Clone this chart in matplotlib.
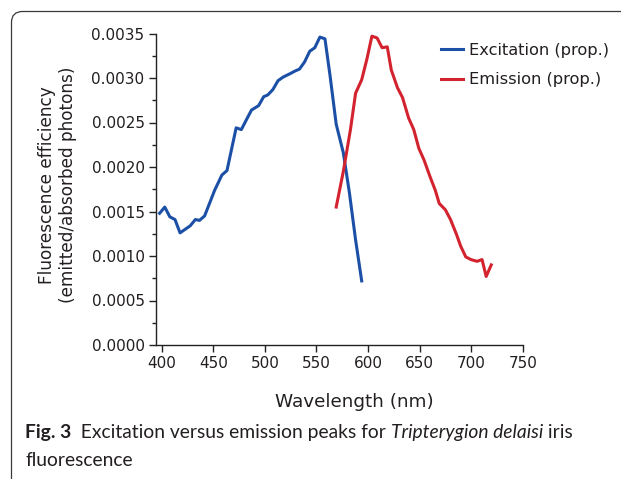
import matplotlib
matplotlib.use("Agg")
import matplotlib.pyplot as plt
from matplotlib.path import Path
from matplotlib.patches import PathPatch
from matplotlib.transforms import IdentityTransform
from matplotlib.ticker import MultipleLocator

plt.rcParams['font.family'] = ['DejaVu Sans']

exc_wl = [398.0, 403.0, 407.9, 412.9, 417.8, 422.8, 427.7, 432.7, 436.6, 441.6, 451.4, 458.4,
          463.3, 472.2, 477.2, 482.1, 487.1, 494.0, 498.9, 502.9, 507.8, 512.8, 517.7, 524.7,
          529.6, 533.6, 538.5, 543.5, 548.4, 553.4, 558.3, 563.3, 569.2, 576.1, 582.0, 588.0,
          593.9]
exc_val = [0.00148, 0.00155, 0.00144, 0.00141, 0.00126, 0.00130, 0.00134, 0.00141, 0.00140,
           0.00145, 0.00174, 0.00191, 0.00196, 0.00244, 0.00242, 0.00253, 0.00264, 0.00269,
           0.00279, 0.00281, 0.00287, 0.00297, 0.00301, 0.00305, 0.00308, 0.00310, 0.00318,
           0.00330, 0.00334, 0.00346, 0.00344, 0.00302, 0.00248, 0.00216, 0.00171, 0.00118,
           0.00072]

em_wl = [569.2, 576.1, 583.0, 588.0, 593.9, 598.9, 603.8, 608.8, 613.7, 618.7, 622.6, 628.6,
         633.5, 639.4, 644.4, 649.3, 654.3, 660.2, 665.2, 669.1, 675.0, 680.0, 685.9, 689.9,
         694.8, 699.8, 705.7, 710.6, 714.6, 719.5]
em_val = [0.00155, 0.00195, 0.00242, 0.00283, 0.00298, 0.00321, 0.00347, 0.00345, 0.00334,
          0.00335, 0.00309, 0.00289, 0.00278, 0.00255, 0.00242, 0.00221, 0.00208, 0.00189,
          0.00174, 0.00159, 0.00152, 0.00141, 0.00124, 0.00111, 0.00099, 0.00096, 0.00094,
          0.00096, 0.00077, 0.00090]

xticks = [400, 450, 500, 550, 600, 650, 700, 750]
yticks = [0.0, 0.0005, 0.0010, 0.0015, 0.0020, 0.0025, 0.0030, 0.0035]

W, H = 621, 479
fig = plt.figure(figsize=(W / 100, H / 100), dpi=100)
txtc = '#231f20'

# frame: left edge and top edge with a rounded top-left corner (pixel coords, y up)
fx, ftop, rad = 11.5, H - 11.5, 11
frame_path = Path([(fx, -5), (fx, ftop - rad), (fx, ftop), (fx + rad, ftop), (W + 10, ftop)],
                  [Path.MOVETO, Path.LINETO, Path.CURVE3, Path.CURVE3, Path.LINETO])
frame = PathPatch(frame_path, facecolor='none', edgecolor='#3a3a3a', lw=0.9,
                  transform=IdentityTransform())
fig.patches.append(frame)

ax = fig.add_axes([155.7 / W, 1 - 345 / H, (522.7 - 155.7) / W, (345 - 33.5) / H])
blue = '#1c50a6'
red = '#d3232f'
ax.plot(exc_wl, exc_val, color=blue, lw=2.2, label='Excitation (prop.)')
ax.plot(em_wl, em_val, color=red, lw=2.2, label='Emission (prop.)')

ax.set_xlim(394.2, 750)
ax.set_ylim(0, 0.0035)
ax.set_xticks(xticks)
ax.set_yticks(yticks)
ax.set_yticklabels([f'{v:.4f}' for v in yticks])
ax.yaxis.set_minor_locator(MultipleLocator(0.00025))
ax.spines['top'].set_visible(False)
ax.spines['right'].set_visible(False)
for s in ('left', 'bottom'):
    ax.spines[s].set_linewidth(1.0)
    ax.spines[s].set_color('#222222')
ax.tick_params(axis='both', which='major', direction='out', length=5, width=1.0,
               labelsize=11, colors='#222222', labelcolor=txtc, pad=3)
ax.tick_params(axis='y', which='minor', direction='out', length=3, width=1.0, colors='#222222')
ax.patch.set_alpha(0)

# axis titles
fig.text(354 / W, 1 - 402 / H, 'Wavelength (nm)', fontsize=13.2, color=txtc,
         ha='center', va='center')
fig.text(57.5 / W, 1 - 185 / H, 'Fluorescence efficiency\n(emitted/absorbed photons)',
         fontsize=12.2, color=txtc, ha='center', va='center', rotation=90,
         multialignment='center', linespacing=1.25)

leg = ax.legend(loc='upper left', bbox_to_anchor=(441 / W, 1 - 43 / H), bbox_transform=fig.transFigure,
                frameon=False, fontsize=11.7, handlelength=1.35, handletextpad=0.37,
                labelspacing=0.88, borderaxespad=0, borderpad=0)
for t in leg.get_texts():
    t.set_color(txtc)
for h in leg.get_lines():
    h.set_linewidth(2.2)

# caption: fit first line width to the reference extent
fig.canvas.draw()
r = fig.canvas.get_renderer()
pieces = [('Fig. 3', 'bold', 'normal'), ('  Excitation versus emission peaks for ', 'normal', 'normal'),
          ('Tripterygion delaisi', 'normal', 'italic'), (' iris', 'normal', 'normal')]
cap_fam = ['Lato', 'DejaVu Sans']


def draw_caption(size):
    arts = []
    x = 25
    for txt, wgt, sty in pieces:
        t = fig.text(x / W, 1 - 432.5 / H, txt, fontsize=size, fontweight=wgt, fontstyle=sty,
                     va='center', ha='left', color=txtc, family=cap_fam)
        arts.append(t)
        x += t.get_window_extent(renderer=r).width
    return arts, x


size = 13.0
arts, xend = draw_caption(size)
for a in arts:
    a.remove()
size = size * (573 - 25) / (xend - 25)
arts, xend = draw_caption(size)
fig.text(25 / W, 1 - 461 / H, 'fluorescence', fontsize=size, va='center', ha='left',
         color=txtc, family=cap_fam)

fig.savefig('out.png', dpi=100)
